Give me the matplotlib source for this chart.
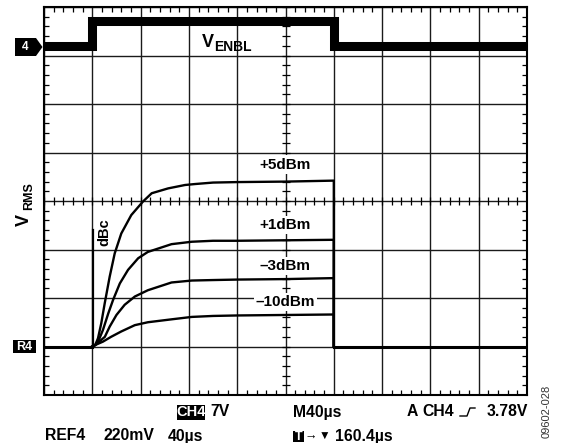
import numpy as np
import matplotlib.pyplot as plt
from matplotlib.patches import Polygon, Rectangle
from matplotlib.lines import Line2D

plt.rcParams['font.family'] = ['Liberation Sans', 'DejaVu Sans']
plt.rcParams['font.weight'] = 'bold'

W, H = 564, 443

# --- scope traces, in divisions (x: 0..10 at 40us/div, y: 0..8) ---
enbl_t = [0.0, 1.0, 1.0, 6.0, 6.0, 10.0]
enbl_v = [7.2, 7.2, 7.72, 7.72, 7.2, 7.2]

base_v = 1.0
spike_t = [1.02, 1.02]
spike_v = [1.0, 3.40]

p5_t = [1.0, 1.06, 1.118, 1.186, 1.257, 1.36, 1.464, 1.60, 1.807, 2.05, 2.23, 2.57, 2.92, 3.13, 3.5, 4.0, 5.0, 6.0]
p5_v = [1.0, 1.03, 1.17, 1.48, 1.89, 2.44, 2.92, 3.33, 3.71, 3.99, 4.16, 4.26, 4.33, 4.35, 4.38, 4.39, 4.40, 4.42]

p1_t = [1.0, 1.06, 1.15, 1.22, 1.33, 1.43, 1.57, 1.74, 1.95, 2.15, 2.64, 3.06, 3.5, 4.0, 5.0, 6.0]
p1_v = [1.0, 1.03, 1.17, 1.34, 1.68, 1.96, 2.30, 2.58, 2.82, 2.95, 3.11, 3.16, 3.18, 3.18, 3.19, 3.20]

m3_t = [1.0, 1.06, 1.26, 1.36, 1.50, 1.67, 1.88, 2.15, 2.64, 3.06, 3.5, 4.0, 5.0, 6.0]
m3_v = [1.0, 1.03, 1.20, 1.41, 1.65, 1.86, 2.03, 2.16, 2.32, 2.36, 2.37, 2.38, 2.39, 2.41]

m10_t = [1.0, 1.06, 1.22, 1.39, 1.60, 1.88, 2.15, 2.64, 3.06, 3.5, 4.0, 5.0, 6.0]
m10_v = [1.0, 1.03, 1.10, 1.20, 1.31, 1.44, 1.50, 1.56, 1.61, 1.63, 1.64, 1.65, 1.66]

curves = [(p5_t, p5_v, '+5dBm', 4.75),
          (p1_t, p1_v, '+1dBm', 3.51),
          (m3_t, m3_v, '\u20133dBm', 2.66),
          (m10_t, m10_v, '\u201310dBm', 1.92)]

fig = plt.figure(figsize=(W / 100, H / 100), dpi=100)
ax = fig.add_axes([44 / W, 48 / H, 483 / W, 388 / H])
ax.set_xlim(0, 10)
ax.set_ylim(0, 8)

# graticule
ax.set_xticks(np.arange(0, 11))
ax.set_yticks(np.arange(0, 9))
ax.set_xticks(np.arange(0, 10.01, 0.2), minor=True)
ax.set_yticks(np.arange(0, 8.01, 0.2), minor=True)
ax.tick_params(which='major', length=0, labelbottom=False, labelleft=False)
ax.tick_params(which='minor', direction='in', length=3.5, width=0.9,
               top=True, right=True, color='black')
ax.grid(True, which='major', color='#1a1a1a', linewidth=1.0)
for s in ax.spines.values():
    s.set_linewidth(1.5)

# cross ticks on the centre lines
ct_y = np.arange(0, 8.01, 0.2)
ct_x = np.arange(0, 10.01, 0.2)
ax.plot(np.full_like(ct_y, 5.0), ct_y, ls='none', marker='_', ms=6, mew=0.9, color='black')
ax.plot(ct_x, np.full_like(ct_x, 4.0), ls='none', marker='|', ms=6, mew=0.9, color='black')

# CH4: enable signal
ax.plot(enbl_t, enbl_v, color='black', lw=6.5, solid_joinstyle='miter')

# R4: RMS output for each input level
ax.plot([0, 1.0], [base_v, base_v], color='black', lw=2.2)
ax.plot([6.0, 10], [base_v, base_v], color='black', lw=2.2)
for t, v, lbl, ly in curves:
    ax.plot(t + [6.0], v + [base_v], color='black', lw=1.7)
for t, v, lbl, ly in curves:
    ax.text(5.0, ly, lbl, ha='center', va='center', fontsize=11, zorder=5,
            bbox=dict(facecolor='white', edgecolor='none', pad=1.5))
ax.plot(spike_t, spike_v, color='black', lw=1.6)
ax.text(1.25, 3.35, 'dBc', rotation=90, ha='center', va='center', fontsize=10.5)

# V_ENBL label
ax.text(3.385, 7.27, 'V', ha='center', va='center', fontsize=13)
ax.text(3.53, 7.18, 'ENBL', ha='left', va='center', fontsize=10)


def px(x, y):
    return x / W, 1 - y / H


# V_RMS axis label
fig.text(*px(24, 220), 'V', rotation=90, ha='center', va='center', fontsize=13)
fig.text(*px(29.5, 196), 'RMS', rotation=90, ha='center', va='center', fontsize=9)

# channel markers
fig.add_artist(Polygon([px(15, 38), px(36, 38), px(42.5, 47), px(36, 56), px(15, 56)],
                       closed=True, facecolor='black', edgecolor='none',
                       transform=fig.transFigure))
fig.text(*px(25, 47), '4', color='white', ha='center', va='center', fontsize=8.5)
fig.add_artist(Rectangle(px(13, 353), 23 / W, 13 / H, facecolor='black',
                         edgecolor='none', transform=fig.transFigure))
fig.text(*px(24.5, 346.5), 'R4', color='white', ha='center', va='center', fontsize=9)

# readout lines
r1, r2 = 412, 436
fs = 11.3
fig.add_artist(Rectangle(px(177, 420), 28 / W, 15 / H, facecolor='black',
                         edgecolor='none', transform=fig.transFigure))
fig.text(*px(191, r1 + 0.5), 'CH4', color='white', ha='center', va='center', fontsize=10.5)
fig.text(*px(210, r1), '7V', ha='left', va='center', fontsize=fs)
fig.text(*px(293, r1), 'M40\u00b5s', ha='left', va='center', fontsize=fs)
fig.text(*px(407, r1), 'A', ha='left', va='center', fontsize=fs)
fig.text(*px(422, r1), 'CH4', ha='left', va='center', fontsize=fs)
fig.add_artist(Line2D([460 / W, 467 / W, 470 / W, 475 / W],
                      [1 - 416 / H, 1 - 416 / H, 1 - 408 / H, 1 - 408 / H],
                      color='black', lw=1.0, transform=fig.transFigure))
fig.text(*px(528, r1), '3.78V', ha='right', va='center', fontsize=fs)

fig.text(*px(45, r2), 'REF4', ha='left', va='center', fontsize=fs)
fig.text(*px(103, r2), '220mV', ha='left', va='center', fontsize=fs)
fig.text(*px(168, r2), '40\u00b5s', ha='left', va='center', fontsize=fs)
fig.add_artist(Rectangle(px(293, 442), 11 / W, 11 / H, facecolor='black',
                         edgecolor='none', transform=fig.transFigure))
fig.text(*px(298.5, 436.5), 'T', color='white', ha='center', va='center', fontsize=9)
fig.text(*px(311, r2 + 0.5), '\u2192', ha='center', va='center', fontsize=9)
fig.text(*px(324, r2 + 0.5), '\u25bc', ha='center', va='center', fontsize=8.5)
fig.text(*px(335, r2), '160.4\u00b5s', ha='left', va='center', fontsize=fs)

fig.text(*px(547, 411), '09602-028', rotation=90, ha='center', va='center',
         fontsize=8, fontweight='normal', color='#333333')

fig.savefig('out.png', dpi=100)
